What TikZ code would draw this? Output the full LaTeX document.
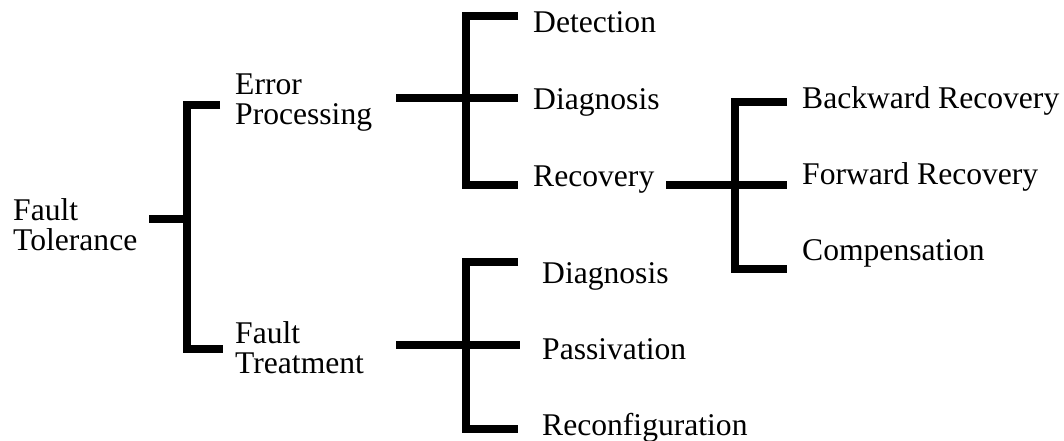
\documentclass[tikz,border=0pt]{standalone}
\usepackage{fontspec}
\setmainfont{Liberation Serif}
\begin{document}
\begin{tikzpicture}[x=1pt,y=-1pt,
  bar/.style={line width=8.5pt,line join=miter,line cap=butt},
  lbl/.style={anchor=base west,inner sep=0pt,align=left,
    font=\fontsize{31.6}{30}\selectfont}]
\useasboundingbox (0,0) rectangle (1064,440);

% labels (multi-line labels are anchored at the baseline of their last line)
\node[lbl] (ft)   at (13,250)  {Fault\\Tolerance};
\node[lbl] (ep)   at (235,124) {Error\\Processing};
\node[lbl] (ftr)  at (235,373) {Fault\\Treatment};
\node[lbl] (det)  at (533,32)  {Detection};
\node[lbl] (dia)  at (533,109) {Diagnosis};
\node[lbl] (rec)  at (533,186) {Recovery};
\node[lbl] (bwd)  at (802,108) {Backward Recovery};
\node[lbl] (fwd)  at (802,184) {Forward Recovery};
\node[lbl] (comp) at (802,260) {Compensation};
\node[lbl] (dia2) at (542,283) {Diagnosis};
\node[lbl] (pas)  at (542,359) {Passivation};
\node[lbl] (rcf)  at (542,435) {Reconfiguration};

% bracket: Fault Tolerance
\coordinate (a0) at (149,219);
\coordinate (a1) at (187,219);
\coordinate (a2) at (220,105);
\coordinate (a3) at (223,349);
\draw[bar] (a0) -- (a1);
\draw[bar] (a2) -- (a2 -| a1) -- (a3 -| a1) -- (a3);

% bracket: Error Processing
\coordinate (b0) at (396,98);
\coordinate (b1) at (466,98);
\coordinate (b2) at (518,98);
\coordinate (b3) at (518,16);
\coordinate (b4) at (518,185);
\draw[bar] (b0) -- (b2);
\draw[bar] (b3) -- (b3 -| b1) -- (b4 -| b1) -- (b4);

% bracket: Recovery
\coordinate (c0) at (666,185);
\coordinate (c1) at (735,185);
\coordinate (c2) at (787,185);
\coordinate (c3) at (787,102);
\coordinate (c4) at (787,269);
\draw[bar] (c0) -- (c2);
\draw[bar] (c3) -- (c3 -| c1) -- (c4 -| c1) -- (c4);

% bracket: Fault Treatment
\coordinate (d0) at (396,345);
\coordinate (d1) at (466,345);
\coordinate (d2) at (520,345);
\coordinate (d3) at (518,262);
\coordinate (d4) at (518,429);
\draw[bar] (d0) -- (d2);
\draw[bar] (d3) -- (d3 -| d1) -- (d4 -| d1) -- (d4);
\end{tikzpicture}
\end{document}
